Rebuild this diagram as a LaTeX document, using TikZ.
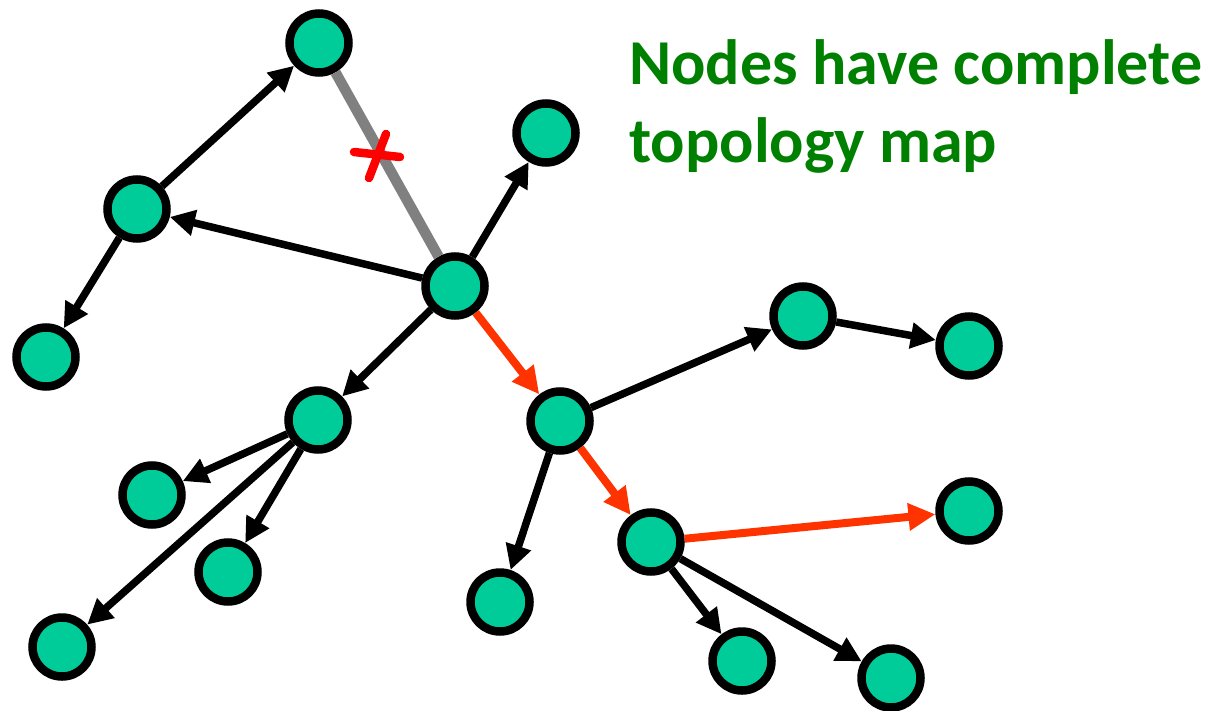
\documentclass[tikz,border=0pt]{standalone}
\usepackage{fontspec}
\setmainfont{Carlito}
\usetikzlibrary{arrows.meta}
\definecolor{nodefill}{HTML}{00CC99}
\definecolor{pathred}{HTML}{FF3300}
\definecolor{linkgray}{HTML}{808080}
\definecolor{titlegreen}{HTML}{008000}
\begin{document}
\begin{tikzpicture}[x=1pt,y=-1pt,
  router/.style={circle,draw=black,line width=8.5pt,fill=nodefill,minimum size=59pt,inner sep=0pt},
  link/.style={line width=7.5pt,draw=black,-{Triangle[length=25pt,width=25pt]}},
  route/.style={line width=8pt,draw=pathred,-{Triangle[length=27pt,width=26pt]}},
  broken/.style={line width=10.5pt,draw=linkgray},
  cross/.style={line width=8.5pt,draw=red,line cap=round}]
\useasboundingbox (0,0) rectangle (1214,711);

% routers
\node[router] (A) at (319,43) {};
\node[router] (B) at (137,209) {};
\node[router] (C) at (46,357) {};
\node[router] (D) at (546,133) {};
\node[router] (E) at (455,286) {};
\node[router] (F) at (803,316) {};
\node[router] (G) at (969,346) {};
\node[router] (H) at (318,420) {};
\node[router] (I) at (560,421) {};
\node[router] (J) at (152,495) {};
\node[router] (K) at (228,572) {};
\node[router] (L) at (62,647) {};
\node[router] (M) at (500,602) {};
\node[router] (N) at (651,542) {};
\node[router] (O) at (969,511) {};
\node[router] (P) at (742,661) {};
\node[router] (Q) at (891,678) {};

% failed link with its mark
\draw[broken] (A) -- (E);
\coordinate (x1) at (354,152);
\coordinate (x2) at (400,157);
\coordinate (x3) at (386,134);
\coordinate (x4) at (369,178);
\draw[cross] (x1) -- (x2);
\draw[cross] (x3) -- (x4);

% tree links
\draw[link] (B) -- (A);
\draw[link] (E) -- (D);
\draw[link] (E) -- (B);
\draw[link] (B) -- (C);
\draw[link] (E) -- (H);
\draw[link] (H) -- (J);
\draw[link] (H) -- (K);
\draw[link] (H) -- (L);
\draw[link] (I) -- (F);
\draw[link] (F) -- (G);
\draw[link] (I) -- (M);
\draw[link] (N) -- (P);
\draw[link] (N) -- (Q);

% highlighted route
\draw[route] (E) -- (I);
\draw[route] (I) -- (N);
\draw[route] (N) -- (O);

% caption (base anchor sits on the last line)
\node[anchor=base west,inner sep=0pt,align=left,text=titlegreen,
      font=\fontsize{64}{78}\selectfont\bfseries] (T) at (629,163)
  {Nodes have complete\\topology map};
\end{tikzpicture}
\end{document}
